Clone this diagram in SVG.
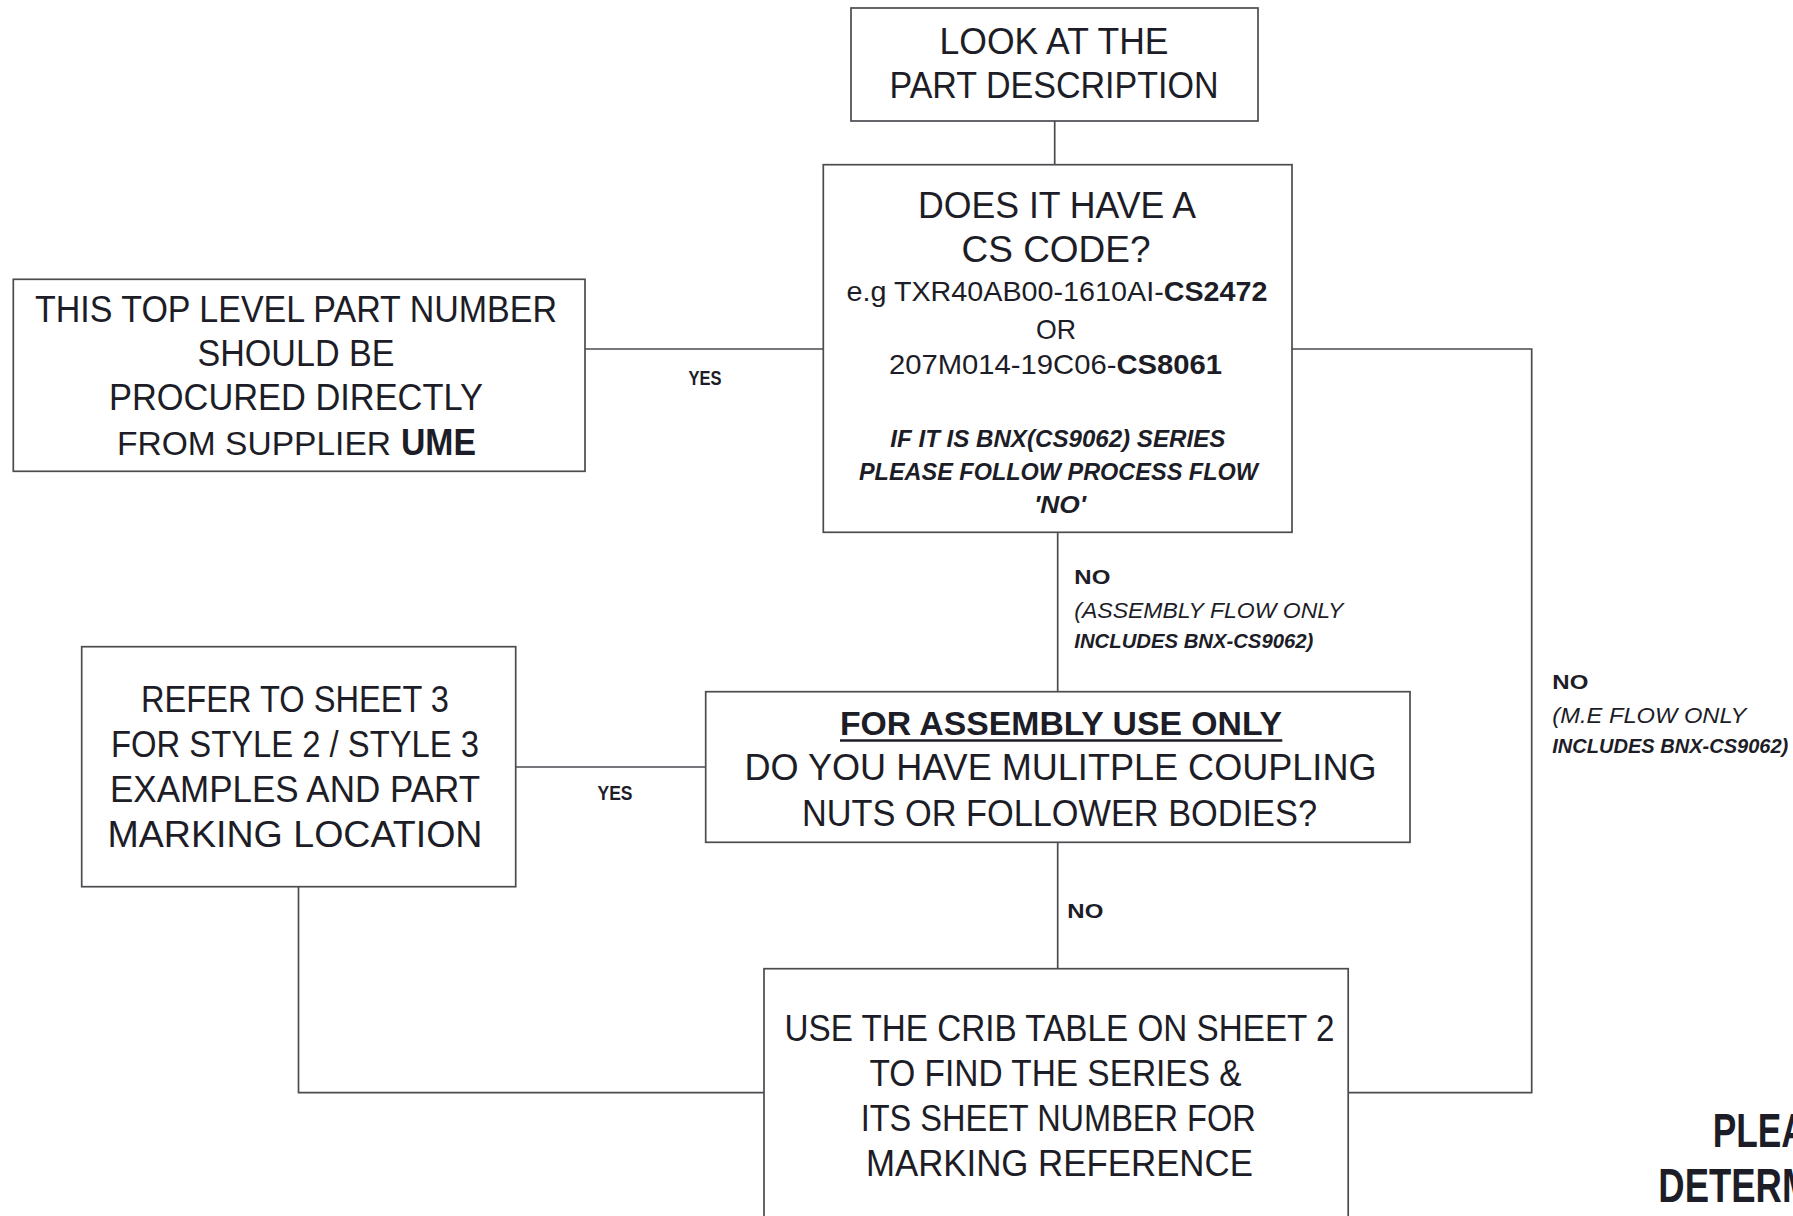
<svg xmlns="http://www.w3.org/2000/svg" width="1793" height="1216" viewBox="0 0 1793 1216">
<style>
  .box { fill: #ffffff; stroke: #4b4b50; stroke-width: 1.7; }
  .conn { fill: none; stroke: #4b4b50; stroke-width: 1.7; }
  text { font-family: "Liberation Sans", Arial, sans-serif; fill: #1d1d27; }
  .m { font-size: 37px; text-anchor: middle; }
  .ms { font-size: 37px; }
  .s { font-size: 28px; text-anchor: middle; }
  .bi { font-size: 24px; font-weight: bold; font-style: italic; text-anchor: middle; }
  .b { font-weight: bold; }
  .lbl { font-size: 21px; font-weight: bold; }
  .note { font-size: 22px; font-style: italic; }
  .noteb { font-size: 20px; font-style: italic; font-weight: bold; }
  .big { font-size: 48px; font-weight: bold; }
</style>
<rect width="1793" height="1216" fill="#ffffff"/>

<g id="connectors">
  <line class="conn" x1="1054.7" y1="121" x2="1054.7" y2="164.7"/>
  <line class="conn" x1="585" y1="349" x2="823.3" y2="349"/>
  <polyline class="conn" points="1292,349 1531.7,349 1531.7,1092.7 1348.2,1092.7"/>
  <line class="conn" x1="1057.7" y1="532.3" x2="1057.7" y2="691.7"/>
  <line class="conn" x1="515.7" y1="767" x2="705.7" y2="767"/>
  <line class="conn" x1="1057.7" y1="842.3" x2="1057.7" y2="968.7"/>
  <polyline class="conn" points="298.5,886.7 298.5,1092.7 764,1092.7"/>
</g>

<g id="labels">
  <text class="lbl" x="705" y="385" text-anchor="middle" textLength="33" lengthAdjust="spacingAndGlyphs">YES</text>
  <text class="lbl" x="615" y="800" text-anchor="middle" textLength="35" lengthAdjust="spacingAndGlyphs">YES</text>
  <text class="lbl" x="1074.3" y="584.3" textLength="36" lengthAdjust="spacingAndGlyphs">NO</text>
  <text class="note" x="1074.3" y="617.7" textLength="269" lengthAdjust="spacingAndGlyphs">(ASSEMBLY FLOW ONLY</text>
  <text class="noteb" x="1074.3" y="647.7" textLength="239" lengthAdjust="spacingAndGlyphs">INCLUDES BNX-CS9062)</text>
  <text class="lbl" x="1067.3" y="917.7" textLength="36" lengthAdjust="spacingAndGlyphs">NO</text>
  <text class="lbl" x="1552.3" y="688.6" textLength="36" lengthAdjust="spacingAndGlyphs">NO</text>
  <text class="note" x="1552.3" y="722.9" textLength="194" lengthAdjust="spacingAndGlyphs">(M.E FLOW ONLY</text>
  <text class="noteb" x="1552.3" y="753" textLength="236" lengthAdjust="spacingAndGlyphs">INCLUDES BNX-CS9062)</text>
</g>

<g id="node-look">
  <rect class="box" x="851" y="8" width="407" height="113"/>
  <text class="m" x="1054" y="54" textLength="229" lengthAdjust="spacingAndGlyphs">LOOK AT THE</text>
  <text class="m" x="1054" y="98.3" textLength="329" lengthAdjust="spacingAndGlyphs">PART DESCRIPTION</text>
</g>

<g id="node-cscode">
  <rect class="box" x="823.3" y="164.7" width="468.7" height="367.6"/>
  <text class="m" x="1057" y="217.5" textLength="278" lengthAdjust="spacingAndGlyphs">DOES IT HAVE A</text>
  <text class="m" x="1056" y="261.7" textLength="189" lengthAdjust="spacingAndGlyphs">CS CODE?</text>
  <text class="s" x="1057" y="300.6" textLength="421" lengthAdjust="spacingAndGlyphs">e.g TXR40AB00-1610AI-<tspan class="b">CS2472</tspan></text>
  <text class="s" x="1056" y="338.5" textLength="40" lengthAdjust="spacingAndGlyphs">OR</text>
  <text class="s" x="1055.5" y="374.3" textLength="333" lengthAdjust="spacingAndGlyphs">207M014-19C06-<tspan class="b">CS8061</tspan></text>
  <text class="bi" x="1057.8" y="446.6" textLength="335" lengthAdjust="spacingAndGlyphs">IF IT IS BNX(CS9062) SERIES</text>
  <text class="bi" x="1058.4" y="480.4" textLength="399" lengthAdjust="spacingAndGlyphs">PLEASE FOLLOW PROCESS FLOW</text>
  <text class="bi" x="1060" y="513.1" textLength="52" lengthAdjust="spacingAndGlyphs">'NO'</text>
</g>

<g id="node-ume">
  <rect class="box" x="13.3" y="279.3" width="571.7" height="192"/>
  <text class="m" x="296" y="321.7" textLength="522" lengthAdjust="spacingAndGlyphs">THIS TOP LEVEL PART NUMBER</text>
  <text class="m" x="296" y="365.5" textLength="197" lengthAdjust="spacingAndGlyphs">SHOULD BE</text>
  <text class="m" x="296" y="409.5" textLength="374" lengthAdjust="spacingAndGlyphs">PROCURED DIRECTLY</text>
  <text x="117" y="455" font-size="34" textLength="274" lengthAdjust="spacingAndGlyphs">FROM SUPPLIER</text>
  <text class="ms b" x="401" y="455" textLength="75" lengthAdjust="spacingAndGlyphs">UME</text>
</g>

<g id="node-refer">
  <rect class="box" x="81.7" y="646.7" width="434" height="240"/>
  <text class="m" x="295" y="711.7" textLength="308" lengthAdjust="spacingAndGlyphs">REFER TO SHEET 3</text>
  <text class="m" x="295" y="756.7" textLength="368" lengthAdjust="spacingAndGlyphs">FOR STYLE 2 / STYLE 3</text>
  <text class="m" x="295" y="801.7" textLength="370" lengthAdjust="spacingAndGlyphs">EXAMPLES AND PART</text>
  <text class="m" x="295" y="846.7" textLength="375" lengthAdjust="spacingAndGlyphs">MARKING LOCATION</text>
</g>

<g id="node-assembly">
  <rect class="box" x="705.7" y="691.7" width="704.3" height="150.6"/>
  <text x="1061" y="735" font-size="33" font-weight="bold" text-anchor="middle" textLength="442" lengthAdjust="spacingAndGlyphs">FOR ASSEMBLY USE ONLY</text>
  <line x1="840" y1="740.5" x2="1282.3" y2="740.5" stroke="#1d1d27" stroke-width="2.5"/>
  <text class="m" x="1060.5" y="780" textLength="632" lengthAdjust="spacingAndGlyphs">DO YOU HAVE MULITPLE COUPLING</text>
  <text class="m" x="1059.5" y="825.7" textLength="515" lengthAdjust="spacingAndGlyphs">NUTS OR FOLLOWER BODIES?</text>
</g>

<g id="node-crib">
  <rect class="box" x="764" y="968.7" width="584.2" height="300"/>
  <text class="m" x="1059.5" y="1041" textLength="550" lengthAdjust="spacingAndGlyphs">USE THE CRIB TABLE ON SHEET 2</text>
  <text class="m" x="1055.5" y="1085.7" textLength="372" lengthAdjust="spacingAndGlyphs">TO FIND THE SERIES &amp;</text>
  <text class="m" x="1058.2" y="1130.7" textLength="395" lengthAdjust="spacingAndGlyphs">ITS SHEET NUMBER FOR</text>
  <text class="m" x="1059.4" y="1175.7" textLength="387" lengthAdjust="spacingAndGlyphs">MARKING REFERENCE</text>
</g>

<g id="note-bottom">
  <text class="big" x="1712.7" y="1146.7" textLength="94" lengthAdjust="spacingAndGlyphs">PLEA</text>
  <text class="big" x="1658.3" y="1201.7" textLength="154" lengthAdjust="spacingAndGlyphs">DETERM</text>
</g>
</svg>
